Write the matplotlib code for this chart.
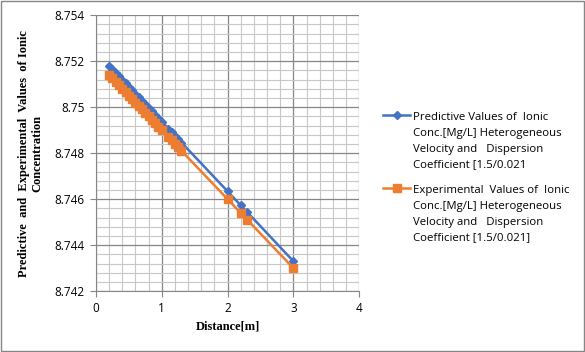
import numpy as np
import matplotlib.pyplot as plt
from matplotlib.lines import Line2D
from matplotlib.ticker import MultipleLocator, FuncFormatter

# distance [m]
distance = [0.2, 0.25, 0.3, 0.35, 0.4, 0.45, 0.5, 0.55, 0.6, 0.65, 0.7, 0.75, 0.8,
            0.85, 0.9, 0.95, 1.0, 1.1, 1.15, 1.2, 1.25, 1.3, 2.0, 2.2, 2.3, 3.0]

predictive = [8.75180, 8.75165, 8.75150, 8.75134, 8.75119, 8.75104, 8.75089, 8.75074,
              8.75059, 8.75043, 8.75028, 8.75013, 8.74998, 8.74983, 8.74967, 8.74952,
              8.74937, 8.74907, 8.74892, 8.74876, 8.74861, 8.74846, 8.74634, 8.74573,
              8.74543, 8.74330]

experimental = [8.75140, 8.75125, 8.75110, 8.75095, 8.75080, 8.75065, 8.75050, 8.75035,
                8.75020, 8.75005, 8.74990, 8.74975, 8.74960, 8.74945, 8.74930, 8.74915,
                8.74900, 8.74870, 8.74855, 8.74840, 8.74825, 8.74810, 8.74600, 8.74540,
                8.74510, 8.74300]

label_pred = ("Predictive Values of  Ionic\nConc.[Mg/L] Heterogeneous\n"
              "Velocity and   Dispersion\nCoefficient [1.5/0.021")
label_exp = ("Experimental  Values of  Ionic\nConc.[Mg/L] Heterogeneous\n"
             "Velocity and   Dispersion\nCoefficient [1.5/0.021]")

BLUE = "#4472C4"
ORANGE = "#ED7D31"

plt.rcParams["font.family"] = ["Open Sans", "DejaVu Sans"]

fig = plt.figure(figsize=(5.85, 3.52), dpi=100)
ax = fig.add_axes([0.164, 0.173, 0.450, 0.784])

ax.plot(distance, predictive, color=BLUE, linewidth=1.8, marker="D",
        markersize=4, zorder=3)
ax.plot(distance, experimental, color=ORANGE, linewidth=1.8, marker="s",
        markersize=5.5, zorder=3)

ax.set_xlim(0, 4)
ax.set_ylim(8.742, 8.754)
ax.xaxis.set_major_locator(MultipleLocator(1))
ax.xaxis.set_minor_locator(MultipleLocator(0.2))
ax.yaxis.set_major_locator(MultipleLocator(0.002))
ax.yaxis.set_minor_locator(MultipleLocator(0.0004))
ax.yaxis.set_major_formatter(FuncFormatter(lambda v, p: ("%.3f" % v).rstrip("0").rstrip(".")))

ax.grid(which="major", color="#868686", linewidth=0.9)
ax.grid(which="minor", color="#c8c8c8", linewidth=0.8)
ax.set_axisbelow(True)
for s in ["top", "right"]:
    ax.spines[s].set_visible(False)
for s in ["left", "bottom"]:
    ax.spines[s].set_color("#868686")
ax.tick_params(which="major", length=4, color="#868686", labelsize=8.5, pad=4)
ax.tick_params(which="minor", length=0)

ax.set_xlabel("Distance[m]", family=["Liberation Serif"], fontweight="bold", fontsize=9)
ax.set_ylabel("Predictive  and  Experimental  Values  of Ionic\nConcentration",
              family=["Liberation Serif"], fontweight="bold", fontsize=9, labelpad=8)

# legend drawn Excel-style: handle level with the first text line
for y_line, y_text, col, mk, ms, lab in [(0.673, 0.682, BLUE, "D", 4, label_pred),
                                          (0.466, 0.474, ORANGE, "s", 5.5, label_exp)]:
    fig.add_artist(Line2D([0.655, 0.701], [y_line, y_line], color=col, linewidth=1.8))
    fig.add_artist(Line2D([0.678], [y_line], color=col, marker=mk, markersize=ms))
    fig.text(0.706, y_text, lab, fontsize=8.2, va="top", ha="left", linespacing=1.6)

fig.patches.append(plt.Rectangle((0.001, 0.002), 0.997, 0.996, transform=fig.transFigure,
                                 fill=False, edgecolor="#868686", linewidth=1))

plt.savefig("out.png", dpi=100)
